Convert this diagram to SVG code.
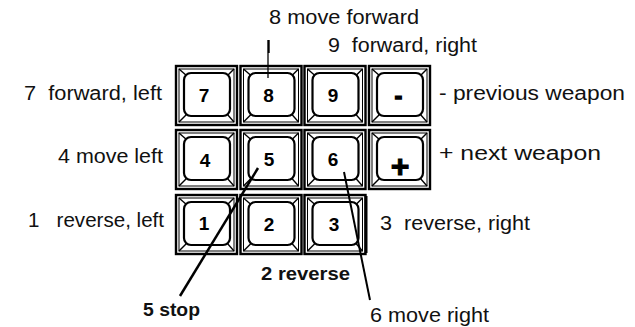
<svg xmlns="http://www.w3.org/2000/svg" xmlns:xlink="http://www.w3.org/1999/xlink" width="635" height="327" viewBox="0 0 635 327">
<style>
  .lbl { font-family: "Liberation Sans", Arial, sans-serif; font-size: 19.5px; fill: #111; }
  .bld { font-family: "Liberation Sans", Arial, sans-serif; font-size: 17.5px; font-weight: bold; fill: #111; }
  .cap { font-family: "Liberation Sans", Arial, sans-serif; font-size: 19px; font-weight: bold; fill: #000; text-anchor: middle; }
  .outer { fill: #fff; stroke: #000; stroke-width: 2.4; }
  .inner { fill: none; stroke: #000; stroke-width: 1; }
  .face { fill: #fff; stroke: #000; stroke-width: 2.2; }
  .bevel { stroke: #000; stroke-width: 1.4; }
  .lead { stroke: #000; fill: none; stroke-linecap: butt; }
</style>
<defs>
  <g id="keycap">
    <rect class="outer" x="0" y="0" width="61" height="59"/>
    <rect class="inner" x="3" y="3" width="55" height="53"/>
    <line class="bevel" x1="3" y1="3" x2="11" y2="10"/>
    <line class="bevel" x1="58" y1="3" x2="51" y2="10"/>
    <line class="bevel" x1="3" y1="56" x2="11" y2="48"/>
    <line class="bevel" x1="58" y1="56" x2="51" y2="48"/>
    <rect class="face" x="8" y="7" width="46" height="43" rx="7" ry="7"/>
  </g>
</defs>

<g id="key-7"><use xlink:href="#keycap" x="176" y="66"/><text class="cap" x="204" y="102">7</text></g>
<g id="key-8"><use xlink:href="#keycap" x="240.5" y="66"/><text class="cap" x="268.5" y="102">8</text></g>
<g id="key-9"><use xlink:href="#keycap" x="304.5" y="66"/><text class="cap" x="333" y="102">9</text></g>
<g id="key-minus"><use xlink:href="#keycap" x="369" y="66"/><text class="cap" x="398.5" y="102.5" style="font-size:22px; stroke:#000; stroke-width:1.6">-</text></g>

<g id="key-4"><use xlink:href="#keycap" x="176" y="130"/><text class="cap" x="205" y="167">4</text></g>
<g id="key-5"><use xlink:href="#keycap" x="240.5" y="130"/><text class="cap" x="269" y="166">5</text></g>
<g id="key-6"><use xlink:href="#keycap" x="304.5" y="130"/><text class="cap" x="333" y="166">6</text></g>
<g id="key-plus"><use xlink:href="#keycap" x="369" y="130"/><text class="cap" x="400" y="177" style="font-size:32px; stroke:#000; stroke-width:1">+</text></g>

<g id="key-1"><use xlink:href="#keycap" x="176" y="195"/><text class="cap" x="204" y="230">1</text></g>
<g id="key-2"><use xlink:href="#keycap" x="240.5" y="195"/><text class="cap" x="269" y="231">2</text></g>
<g id="key-3"><use xlink:href="#keycap" x="304.5" y="195"/><line x1="366" y1="196" x2="366" y2="253" stroke="#000" stroke-width="3"/><text class="cap" x="334" y="231">3</text></g>

<g id="connectors">
  <line class="lead" x1="268.5" y1="40" x2="268.5" y2="53" stroke-width="2.4"/>
  <line class="lead" x1="268" y1="53" x2="268" y2="78" stroke-width="1.3"/>
  <line class="lead" x1="258" y1="168" x2="180" y2="296" stroke-width="2.5"/>
  <line class="lead" x1="344" y1="172" x2="370" y2="300" stroke-width="2"/>
</g>

<g id="labels">
  <text class="lbl" x="269" y="24" textLength="150" lengthAdjust="spacingAndGlyphs">8 move forward</text>
  <text class="lbl" x="328" y="52" textLength="149" lengthAdjust="spacingAndGlyphs" xml:space="preserve">9  forward, right</text>
  <text class="lbl" x="24" y="100" textLength="138" lengthAdjust="spacingAndGlyphs" xml:space="preserve">7  forward, left</text>
  <text class="lbl" x="439" y="100" textLength="186" lengthAdjust="spacingAndGlyphs">- previous weapon</text>
  <text class="lbl" x="58" y="163" textLength="105" lengthAdjust="spacingAndGlyphs">4 move left</text>
  <text class="lbl" x="439" y="159.5" textLength="162" lengthAdjust="spacingAndGlyphs">+ next weapon</text>
  <text class="lbl" x="28" y="226.5" textLength="136" lengthAdjust="spacingAndGlyphs" xml:space="preserve">1   reverse, left</text>
  <text class="lbl" x="380" y="229.5" textLength="150" lengthAdjust="spacingAndGlyphs" xml:space="preserve">3  reverse, right</text>
  <text class="bld" x="261" y="280" textLength="89" lengthAdjust="spacingAndGlyphs">2 reverse</text>
  <text class="bld" x="143" y="316" textLength="57" lengthAdjust="spacingAndGlyphs">5 stop</text>
  <text class="lbl" x="370" y="322" textLength="119" lengthAdjust="spacingAndGlyphs">6 move right</text>
</g>
</svg>
